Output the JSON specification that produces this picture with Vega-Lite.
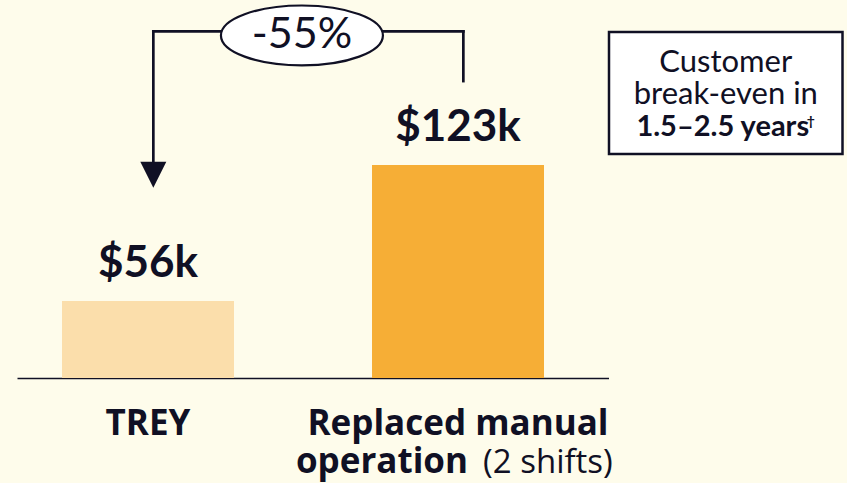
{
  "$schema": "https://vega.github.io/schema/vega-lite/v6.json",
  "background": "#FEFCEB",
  "padding": {"left": 17, "top": 1, "right": 4, "bottom": 3},
  "spacing": 0,
  "bounds": "flush",
  "config": {
    "view": {"stroke": null},
    "font": "Lato",
    "text": {"color": "#101024"}
  },
  "hconcat": [
    {
      "width": 591.5,
      "height": 346,
      "data": {"values": [
        {"option": "TREY", "cost": 56, "label": "$56k"},
        {"option": "Replaced manual operation", "cost": 123, "label": "$123k"}
      ]},
      "encoding": {
        "x": {
          "field": "option",
          "type": "nominal",
          "sort": null,
          "scale": {"domain": ["TREY", "Replaced manual operation"], "paddingInner": 0.4452, "paddingOuter": 0.1766, "align": 0.411},
          "axis": {
            "title": null,
            "orient": "bottom",
            "domain": true,
            "domainColor": "#101024",
            "domainWidth": 1.5,
            "ticks": false,
            "tickSize": 0,
            "grid": false,
            "labelAngle": 0,
            "labelFont": "Open Sans",
            "labelFontSize": 35,
            "labelFontWeight": "bold",
            "labelColor": "#101024",
            "labelBaseline": "alphabetic",
            "labelPadding": 56,
            "labelLimit": 0,
            "labelOverlap": false,
            "labelExpr": "datum.value == 'TREY' ? 'TREY' : 'Replaced manual'"
          }
        }
      },
      "layer": [
        {
          "mark": {"type": "bar"},
          "encoding": {
            "y": {"field": "cost", "type": "quantitative", "scale": {"domain": [18, 188.6], "zero": false, "nice": false}, "axis": null},
            "y2": {"datum": 18},
            "color": {"field": "option", "type": "nominal", "scale": {"domain": ["TREY", "Replaced manual operation"], "range": ["#FBDEAB", "#F6AE36"]}, "legend": null}
          }
        },
        {
          "mark": {"type": "text", "fontSize": 44, "fontWeight": "bold", "baseline": "alphabetic", "dy": -24},
          "encoding": {
            "y": {"field": "cost", "type": "quantitative"},
            "text": {"field": "label"}
          }
        },
        {
          "data": {"values": [{"part": "operation"}]},
          "mark": {"type": "text", "font": "Open Sans", "fontSize": 35, "fontWeight": "bold", "baseline": "alphabetic", "align": "right", "dx": 10},
          "encoding": {
            "x": {"datum": "Replaced manual operation", "type": "nominal"},
            "y": {"datum": -28.8, "type": "quantitative"},
            "text": {"field": "part"}
          }
        },
        {
          "data": {"values": [{"part": "(2 shifts)"}]},
          "mark": {"type": "text", "font": "Open Sans", "fontSize": 33, "fontWeight": "normal", "baseline": "alphabetic", "align": "left", "dx": 25},
          "encoding": {
            "x": {"datum": "Replaced manual operation", "type": "nominal"},
            "y": {"datum": -28.8, "type": "quantitative"},
            "text": {"field": "part"}
          }
        },
        {
          "data": {"values": [{}]},
          "mark": {"type": "rule", "strokeWidth": 2.7, "color": "#101024", "strokeCap": "square"},
          "encoding": {
            "x": {"datum": "TREY", "type": "nominal", "bandPosition": 0.531},
            "y": {"datum": 188.9, "type": "quantitative"},
            "y2": {"datum": 124.7}
          }
        },
        {
          "data": {"values": [{}]},
          "mark": {"type": "rule", "strokeWidth": 2.7, "color": "#101024", "strokeCap": "square"},
          "encoding": {
            "x": {"datum": "Replaced manual operation", "type": "nominal", "bandPosition": 0.531},
            "y": {"datum": 188.9, "type": "quantitative"},
            "y2": {"datum": 164.4}
          }
        },
        {
          "data": {"values": [{}]},
          "mark": {"type": "rule", "strokeWidth": 2.7, "color": "#101024", "strokeCap": "square"},
          "encoding": {
            "x": {"datum": "TREY", "type": "nominal", "bandPosition": 0.531},
            "x2": {"datum": "Replaced manual operation", "bandPosition": 0.531},
            "y": {"datum": 188.9, "type": "quantitative"}
          }
        },
        {
          "data": {"values": [{}]},
          "mark": {"type": "point", "shape": "M-1,-1L1,-1L0,1Z", "size": 676, "filled": true, "color": "#101024", "opacity": 1, "strokeWidth": 0},
          "encoding": {
            "x": {"datum": "TREY", "type": "nominal", "bandPosition": 0.531},
            "y": {"datum": 118.2, "type": "quantitative"}
          }
        },
        {
          "data": {"values": [{"change": "-55%"}]},
          "mark": {"type": "point", "shape": "M-1,0A1,0.37,0,1,1,1,0A1,0.37,0,1,1,-1,0Z", "size": 26244, "fill": "white", "stroke": "#101024", "strokeWidth": 2.2, "opacity": 1, "fillOpacity": 1},
          "encoding": {
            "x": {"datum": "TREY", "type": "nominal", "bandPosition": 1.395},
            "y": {"datum": 186.9, "type": "quantitative"}
          }
        },
        {
          "data": {"values": [{"change": "-55%"}]},
          "mark": {"type": "text", "fontSize": 43, "baseline": "middle"},
          "encoding": {
            "x": {"datum": "TREY", "type": "nominal", "bandPosition": 1.395},
            "y": {"datum": 186.9, "type": "quantitative"},
            "text": {"field": "change"}
          }
        }
      ]
    },
    {
      "width": 233.5,
      "height": 122,
      "view": {"stroke": "#101024", "strokeWidth": 2.5, "fill": "white"},
      "data": {"values": [
        {"line": 1, "text": "Customer", "bold": false},
        {"line": 2, "text": "break-even in", "bold": false},
        {"line": 3, "text": "1.5–2.5 years", "bold": true}
      ]},
      "encoding": {
        "y": {"field": "line", "type": "ordinal", "scale": {"type": "point", "padding": 0.894, "align": 0.689}, "axis": null},
        "text": {"field": "text"}
      },
      "layer": [
        {
          "transform": [{"filter": "!datum.bold"}],
          "mark": {"type": "text", "fontSize": 31, "baseline": "alphabetic"}
        },
        {
          "transform": [{"filter": "datum.bold"}],
          "mark": {"type": "text", "fontSize": 29, "fontWeight": "bold", "baseline": "alphabetic", "dx": -3}
        },
        {
          "transform": [{"filter": "datum.bold"}],
          "mark": {"type": "text", "fontSize": 14, "fontWeight": "bold", "baseline": "alphabetic", "align": "left", "dx": 81, "dy": -10},
          "encoding": {"text": {"value": "†"}}
        }
      ]
    }
  ]
}
